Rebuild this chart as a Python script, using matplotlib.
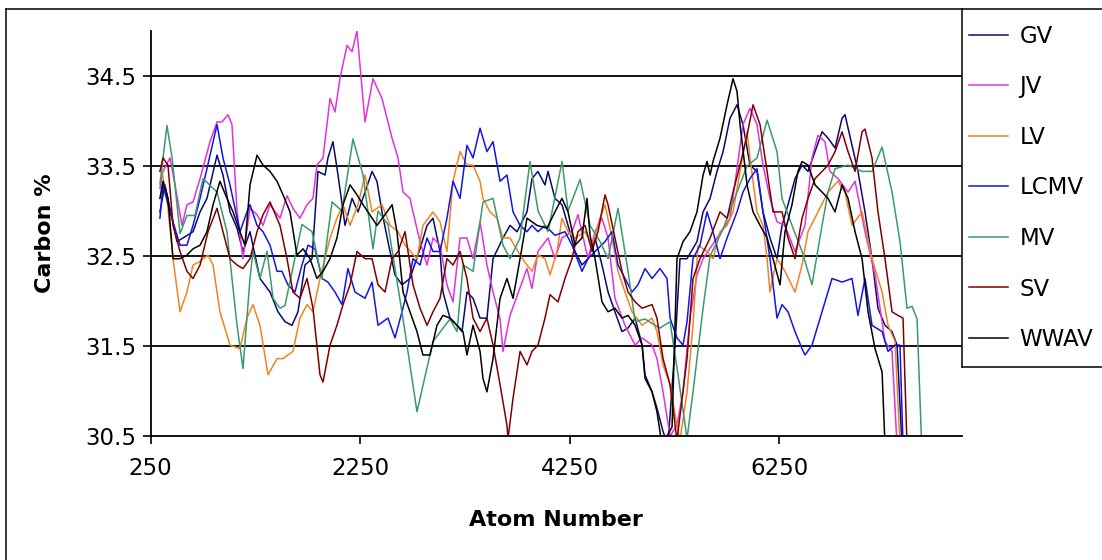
import matplotlib
matplotlib.use("Agg")
import matplotlib.pyplot as plt
from matplotlib.lines import Line2D

# ---------------- data (atom number, carbon %) ----------------
GV_x = [340, 388, 503, 560, 656, 723, 789, 885, 942, 1009, 1076, 1133, 1200, 1295, 1391, 1467, 1534, 1601, 1658, 1725,
        1792, 1849, 1916, 1944, 1992, 2040, 2107, 2174, 2231, 2298, 2365, 2412, 2460, 2517, 2584, 2651, 2727, 2823, 2890, 2947,
        3014, 3042, 3109, 3176, 3224, 3271, 3329, 3396, 3462, 3520, 3615, 3682, 3749, 3844, 3892, 3949, 4016, 4045, 4111, 4178,
        4236, 4303, 4369, 4427, 4494, 4560, 4618, 4684, 4751, 4809, 4876, 4943, 4971, 5038, 5085, 5143, 5190, 5257, 5305, 5372,
        5467, 5525, 5592, 5658, 5716, 5782, 5849, 5906, 5973, 6040, 6097, 6164, 6231, 6279, 6336, 6403, 6470, 6527, 6594, 6661,
        6718, 6785, 6852, 6880, 6947, 7004, 7071, 7138, 7195, 7262, 7329, 7377, 7424]
GV_y = [32.99, 33.29, 32.66, 32.70, 32.77, 32.99, 33.14, 33.62, 33.40, 32.99, 32.81, 32.55, 32.77, 32.25, 32.10, 31.88, 31.77, 31.73, 31.88, 32.40,
        32.47, 33.44, 33.40, 33.59, 33.77, 33.40, 32.84, 33.14, 32.99, 33.21, 33.44, 33.33, 32.99, 32.66, 32.29, 32.18, 32.25, 32.58, 32.84, 32.92,
        32.55, 32.10, 31.81, 31.73, 31.66, 32.10, 32.03, 31.81, 31.81, 32.47, 32.70, 32.84, 32.77, 32.99, 33.36, 33.44, 33.29, 33.44, 33.14, 33.07,
        32.84, 32.55, 32.40, 32.47, 32.70, 32.40, 32.10, 31.88, 31.66, 31.70, 31.81, 31.51, 31.18, 30.99, 30.81, 30.55, 30.40, 31.50, 32.47, 32.47,
        32.66, 32.99, 33.14, 33.44, 33.66, 34.03, 34.18, 33.96, 33.51, 33.44, 32.99, 32.70, 32.47, 32.84, 33.07, 33.36, 33.51, 33.44, 33.66, 33.88,
        33.81, 33.70, 34.03, 34.07, 33.73, 33.44, 32.99, 32.47, 31.92, 31.73, 31.66, 31.51, 30.40]

JV_x = [340, 369, 436, 484, 551, 598, 656, 723, 818, 885, 933, 990, 1028, 1076, 1133, 1200, 1267, 1324, 1391, 1486,
        1553, 1610, 1677, 1744, 1801, 1839, 1897, 1964, 2011, 2059, 2126, 2174, 2221, 2298, 2374, 2460, 2556, 2613, 2661, 2727,
        2756, 2823, 2890, 2947, 3014, 3080, 3138, 3205, 3271, 3329, 3396, 3462, 3520, 3587, 3615, 3682, 3844, 3892, 3949, 4045,
        4111, 4178, 4274, 4331, 4427, 4494, 4560, 4618, 4684, 4780, 4876, 4943, 5038, 5085, 5143, 5210, 5276, 5334, 5400, 5467,
        5525, 5658, 5782, 5849, 5906, 5973, 6040, 6097, 6164, 6231, 6307, 6403, 6498, 6565, 6622, 6689, 6737, 6813, 6909, 6976,
        7071, 7167, 7262, 7329, 7377]
JV_y = [33.25, 33.44, 33.59, 33.29, 32.84, 33.07, 33.10, 33.36, 33.77, 33.99, 33.99, 34.07, 33.96, 33.00, 32.47, 33.03, 32.96, 32.84, 33.07, 32.92,
        33.17, 33.03, 32.92, 33.07, 33.14, 33.51, 33.59, 34.25, 34.10, 34.47, 34.84, 34.77, 35.00, 33.99, 34.47, 34.25, 33.81, 33.59, 33.21, 33.14,
        32.99, 32.66, 32.40, 32.70, 32.62, 32.18, 31.99, 32.70, 32.70, 32.47, 32.88, 32.40, 32.10, 31.80, 31.44, 31.84, 32.36, 32.14, 32.55, 32.70,
        32.47, 32.70, 32.77, 32.96, 32.47, 32.77, 32.92, 32.70, 32.03, 31.73, 31.51, 31.59, 31.51, 31.36, 30.99, 30.50, 30.62, 30.99, 31.81, 32.29,
        32.47, 32.70, 32.92, 33.47, 33.96, 34.14, 33.96, 33.51, 33.14, 32.88, 32.84, 32.55, 32.84, 33.59, 33.84, 33.77, 33.44, 33.36, 33.21, 33.33,
        32.77, 32.29, 31.55, 31.44, 30.40]

LV_x = [360, 407, 465, 532, 598, 656, 723, 799, 847, 913, 1009, 1104, 1171, 1228, 1295, 1372, 1458, 1515, 1610, 1677,
        1744, 1801, 1868, 1964, 2030, 2088, 2155, 2231, 2298, 2365, 2460, 2537, 2613, 2680, 2794, 2851, 2947, 3014, 3080, 3138,
        3205, 3271, 3329, 3396, 3424, 3491, 3558, 3615, 3682, 3778, 3844, 3892, 3949, 4016, 4064, 4131, 4178, 4236, 4303, 4398,
        4465, 4541, 4589, 4656, 4713, 4780, 4847, 4943, 5038, 5085, 5143, 5210, 5276, 5305, 5372, 5429, 5477, 5563, 5620, 5687,
        5754, 5811, 5878, 5945, 5973, 6040, 6097, 6136, 6164, 6231, 6307, 6403, 6470, 6527, 6622, 6718, 6813, 6880, 6947, 7043,
        7138, 7234, 7291, 7358, 7405]
LV_y = [33.44, 33.14, 32.47, 31.88, 32.10, 32.40, 32.44, 32.51, 32.40, 31.88, 31.51, 31.47, 31.81, 31.96, 31.73, 31.18, 31.36, 31.36, 31.44, 31.81,
        31.96, 31.88, 32.25, 32.70, 32.92, 33.07, 32.84, 33.07, 33.40, 32.99, 33.07, 32.84, 32.77, 32.62, 32.47, 32.84, 32.99, 32.88, 32.55, 33.33,
        33.66, 33.51, 33.51, 33.33, 33.14, 32.99, 32.92, 32.70, 32.70, 32.51, 32.40, 32.33, 32.51, 32.47, 32.29, 32.55, 32.92, 32.77, 32.70, 32.77,
        32.62, 32.92, 33.07, 32.70, 32.33, 32.10, 31.88, 31.73, 31.81, 31.66, 31.29, 31.07, 30.62, 30.45, 30.99, 31.73, 32.62, 32.55, 32.47, 32.77,
        32.84, 32.99, 33.44, 33.88, 33.59, 32.99, 32.84, 32.47, 32.10, 32.47, 32.33, 32.10, 32.40, 32.77, 32.99, 33.21, 33.33, 33.21, 32.84, 32.99,
        32.47, 32.10, 31.73, 31.55, 30.40]

LCMV_x = [340, 369, 436, 532, 598, 656, 723, 789, 885, 942, 1009, 1104, 1171, 1200, 1267, 1324, 1391, 1458, 1505, 1562,
          1629, 1696, 1754, 1820, 1887, 1944, 2011, 2078, 2135, 2202, 2298, 2365, 2422, 2517, 2584, 2651, 2699, 2756, 2823, 2890,
          2947, 3014, 3080, 3138, 3205, 3271, 3329, 3396, 3462, 3520, 3587, 3653, 3711, 3778, 3844, 3892, 3949, 4016, 4111, 4207,
          4274, 4369, 4427, 4494, 4589, 4656, 4713, 4780, 4847, 4904, 4971, 5038, 5114, 5181, 5210, 5276, 5334, 5372, 5429, 5496,
          5563, 5620, 5687, 5754, 5849, 5906, 5973, 6040, 6097, 6164, 6231, 6279, 6336, 6403, 6470, 6498, 6565, 6622, 6689, 6756,
          6852, 6947, 7004, 7071, 7138, 7234, 7291, 7358, 7405, 7434]
LCMV_y = [32.92, 33.29, 32.99, 32.62, 32.62, 32.84, 33.14, 33.47, 33.96, 33.59, 33.29, 32.77, 32.99, 33.07, 32.84, 32.77, 32.62, 32.33, 32.33, 32.18,
          32.10, 32.40, 32.62, 32.58, 32.25, 32.21, 32.10, 31.96, 32.36, 32.10, 32.03, 32.21, 31.73, 31.81, 31.59, 31.88, 32.10, 32.47, 32.40, 32.70,
          32.55, 32.55, 32.92, 33.33, 33.14, 33.73, 33.59, 33.92, 33.66, 33.77, 33.33, 33.40, 32.99, 32.84, 32.77, 32.84, 32.77, 32.84, 32.73, 32.77,
          32.62, 32.33, 32.47, 32.55, 32.66, 32.77, 32.40, 32.25, 32.10, 32.18, 32.36, 32.25, 32.36, 32.25, 31.81, 31.59, 31.51, 31.77, 32.47, 32.62,
          32.99, 32.77, 32.47, 32.70, 32.99, 33.21, 33.36, 33.47, 32.99, 32.47, 31.81, 31.96, 31.88, 31.66, 31.47, 31.40, 31.51, 31.73, 31.99, 32.25,
          32.21, 32.25, 31.84, 32.25, 31.73, 31.66, 31.44, 31.51, 31.51, 30.40]

MV_x = [340, 407, 455, 532, 598, 675, 751, 885, 980, 1076, 1133, 1200, 1228, 1295, 1362, 1420, 1486, 1534, 1696, 1792,
        1887, 1983, 2078, 2183, 2279, 2374, 2422, 2517, 2661, 2794, 2947, 3109, 3176, 3234, 3329, 3424, 3520, 3615, 3682, 3778,
        3873, 3950, 4045, 4179, 4236, 4351, 4446, 4541, 4618, 4713, 4809, 4876, 4971, 5066, 5114, 5210, 5286, 5372, 5429, 5525,
        5592, 5716, 5849, 5945, 6040, 6136, 6231, 6279, 6374, 6470, 6565, 6661, 6718, 6785, 6909, 7043, 7138, 7234, 7329, 7405,
        7472, 7520, 7568, 7615]
MV_y = [33.30, 33.95, 33.60, 32.75, 32.95, 32.95, 33.36, 33.21, 32.77, 31.73, 31.25, 32.25, 32.55, 32.25, 32.55, 32.03, 31.92, 31.95, 32.85, 32.77,
        32.25, 33.10, 33.00, 33.80, 33.40, 32.58, 33.00, 32.85, 31.80, 30.77, 31.55, 31.80, 31.66, 32.40, 32.33, 33.10, 33.14, 32.62, 32.47, 32.70,
        33.55, 33.00, 32.77, 33.55, 33.00, 33.35, 32.84, 32.66, 32.47, 33.03, 32.33, 31.77, 31.80, 31.73, 31.70, 31.77, 31.18, 30.47, 30.99, 31.92,
        32.50, 32.80, 33.21, 33.50, 33.59, 34.01, 33.66, 33.14, 32.84, 32.55, 32.18, 32.84, 33.21, 33.47, 33.51, 33.44, 33.44, 33.71, 33.21, 32.66,
        31.92, 31.94, 31.80, 30.30]

SV_x = [340, 369, 417, 465, 532, 598, 656, 723, 799, 885, 942, 1009, 1076, 1133, 1200, 1267, 1324, 1391, 1486, 1553,
        1610, 1677, 1744, 1801, 1868, 1897, 1964, 2030, 2088, 2155, 2221, 2298, 2365, 2422, 2489, 2556, 2613, 2680, 2756, 2823,
        2890, 2947, 3014, 3080, 3138, 3205, 3271, 3329, 3396, 3462, 3520, 3587, 3653, 3663, 3711, 3778, 3844, 3892, 3949, 4016,
        4064, 4140, 4207, 4274, 4331, 4398, 4465, 4522, 4589, 4618, 4684, 4751, 4809, 4876, 4943, 5038, 5085, 5143, 5210, 5276,
        5372, 5429, 5496, 5592, 5687, 5754, 5811, 5878, 5945, 6002, 6069, 6136, 6193, 6279, 6336, 6403, 6470, 6527, 6594, 6661,
        6718, 6785, 6852, 6909, 6976, 7043, 7071, 7138, 7195, 7262, 7329, 7386, 7434, 7472]
SV_y = [33.44, 33.59, 33.51, 32.84, 32.55, 32.33, 32.25, 32.40, 32.77, 33.03, 32.77, 32.47, 32.40, 32.36, 32.47, 32.77, 32.96, 33.10, 32.84, 32.47,
        32.10, 32.03, 32.25, 31.92, 31.18, 31.10, 31.51, 31.73, 31.96, 32.18, 32.55, 32.47, 32.47, 32.18, 32.10, 32.47, 32.55, 32.77, 32.18, 31.92,
        31.73, 31.88, 32.03, 32.47, 32.40, 32.55, 32.25, 31.81, 31.66, 31.81, 31.51, 31.07, 30.62, 30.47, 30.92, 31.44, 31.29, 31.44, 31.51, 31.81,
        32.07, 31.99, 32.25, 32.47, 32.77, 32.84, 32.55, 32.77, 33.18, 33.07, 32.70, 32.33, 32.10, 31.99, 31.92, 31.96, 31.81, 31.36, 31.07, 30.45,
        31.36, 32.25, 32.47, 32.70, 32.99, 32.92, 33.21, 33.51, 33.84, 34.18, 33.96, 33.44, 32.99, 32.99, 32.70, 32.47, 32.92, 33.14, 33.36, 33.44,
        33.51, 33.66, 33.88, 33.66, 33.44, 33.88, 33.91, 33.59, 32.99, 32.47, 31.88, 31.84, 31.81, 30.40]

WWAV_x = [340, 369, 417, 465, 532, 598, 656, 723, 789, 847, 913, 980, 1038, 1104, 1152, 1200, 1267, 1324, 1391, 1458,
          1515, 1582, 1648, 1706, 1773, 1839, 1897, 1964, 2030, 2088, 2155, 2221, 2279, 2412, 2508, 2556, 2603, 2661, 2727, 2794,
          2851, 2918, 2985, 3042, 3109, 3176, 3233, 3271, 3329, 3396, 3424, 3462, 3520, 3587, 3653, 3711, 3778, 3844, 3940, 4035,
          4111, 4178, 4236, 4303, 4369, 4417, 4446, 4494, 4560, 4618, 4684, 4751, 4809, 4876, 4943, 4971, 5038, 5085, 5133, 5229,
          5276, 5334, 5400, 5467, 5525, 5563, 5592, 5620, 5687, 5754, 5811, 5849, 5878, 5945, 6002, 6069, 6136, 6193, 6260, 6307,
          6374, 6431, 6470, 6527, 6594, 6661, 6718, 6785, 6852, 6909, 6976, 7043, 7100, 7167, 7234, 7262]
WWAV_y = [33.14, 33.33, 33.14, 32.47, 32.47, 32.51, 32.58, 32.62, 32.77, 33.07, 33.33, 33.14, 32.99, 32.77, 32.62, 33.29, 33.62, 33.51, 33.44, 33.33,
          33.18, 32.99, 32.51, 32.58, 32.47, 32.25, 32.33, 32.47, 32.70, 33.07, 33.29, 33.18, 33.07, 32.84, 32.99, 33.07, 32.77, 32.10, 31.88, 31.66,
          31.40, 31.40, 31.73, 31.84, 31.81, 31.73, 31.66, 31.40, 31.73, 31.44, 31.14, 30.99, 31.36, 32.03, 32.25, 32.03, 32.47, 32.92, 32.84, 32.81,
          32.99, 33.14, 32.99, 32.62, 32.70, 33.14, 32.73, 32.47, 31.99, 31.88, 31.92, 31.81, 31.84, 31.73, 31.51, 31.14, 30.99, 30.77, 30.40, 30.60,
          32.47, 32.66, 32.77, 32.99, 33.40, 33.55, 33.40, 33.55, 33.81, 34.18, 34.47, 34.33, 33.96, 33.29, 32.99, 32.84, 32.70, 32.47, 32.18, 32.77,
          33.07, 33.44, 33.55, 33.51, 33.29, 33.21, 33.14, 32.99, 33.29, 33.14, 32.77, 32.47, 31.88, 31.47, 31.21, 30.40]

series_names = ["GV", "JV", "LV", "LCMV", "MV", "SV", "WWAV"]
series_x = [GV_x, JV_x, LV_x, LCMV_x, MV_x, SV_x, WWAV_x]
series_y = [GV_y, JV_y, LV_y, LCMV_y, MV_y, SV_y, WWAV_y]
series_colors = ["#0A0A6E", "#E033DC", "#F08424", "#1414E6", "#3A9A6C", "#800000", "#000000"]

x_ticks = [250, 2250, 4250, 6250]
y_ticks = [30.5, 31.5, 32.5, 33.5, 34.5]
grid_levels = [31.5, 32.5, 33.5, 34.5]

# ---------------- figure ----------------
W, H = 1102, 560
plt.rcParams["font.family"] = ["DejaVu Sans"]
fig = plt.figure(figsize=(W / 100, H / 100), dpi=100)
fig.patch.set_facecolor("white")

ax_left, ax_right, ax_bottom, ax_top = 150.5, 962.0, 436.0, 31.0
ax = fig.add_axes([ax_left / W, (H - ax_bottom) / H, (ax_right - ax_left) / W, (ax_bottom - ax_top) / H])

for lv in grid_levels:
    ax.axhline(lv, color="black", lw=1.3, zorder=0.5)

for name, xs, ys, c in zip(series_names, series_x, series_y, series_colors):
    ax.plot(xs, ys, color=c, lw=1.1, label=name, zorder=2)

ax.set_xlim(250, 7997)
ax.set_ylim(30.5, 35.0)
ax.set_xticks(x_ticks)
ax.set_xticklabels([str(v) for v in x_ticks])
ax.set_yticks(y_ticks)
ax.set_yticklabels([f"{v:.1f}" for v in y_ticks])

for s in ["top", "right"]:
    ax.spines[s].set_visible(False)
for s in ["left", "bottom"]:
    ax.spines[s].set_color("black")
    ax.spines[s].set_linewidth(1.3)

ax.tick_params(axis="both", direction="out", length=6, width=1.2, colors="black", labelsize=16.5)
ax.tick_params(axis="x", pad=9)
ax.tick_params(axis="y", pad=4)

ax.set_xlabel("Atom Number", fontsize=16, fontweight="bold", labelpad=22)
ax.set_ylabel("Carbon %", fontsize=16, fontweight="bold", labelpad=22)

# legend
leg_handles = [Line2D([0], [0], color=c, lw=1.1) for c in series_colors]
fig.legend(leg_handles, series_names, loc="upper left",
           bbox_to_anchor=(969 / W, 1 - 25 / H), frameon=False,
           fontsize=16.5, handlelength=1.7, handletextpad=0.5,
           labelspacing=1.2, borderpad=0, borderaxespad=0)

# outer frame and legend box lines
def fline(xs, ys):
    fig.add_artist(Line2D([x / W for x in xs], [1 - y / H for y in ys],
                          transform=fig.transFigure, color="black", lw=1.1))

fline([5.5, 5.5], [8.5, 560])
fline([5.5, 1102], [8.5, 8.5])
fline([962, 962], [8.5, 367])
fline([962, 1102], [367, 367])

fig.savefig("out.png", dpi=100)
